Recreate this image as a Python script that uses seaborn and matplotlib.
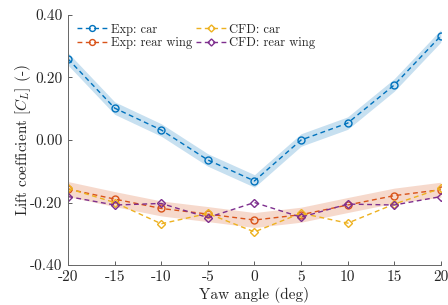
import matplotlib
matplotlib.use("Agg")
import matplotlib.pyplot as plt
import numpy as np
import pandas as pd
import seaborn as sns

# yaw angles and lift coefficients
yaw = [-20, -15, -10, -5, 0, 5, 10, 15, 20]
exp_car = [0.259, 0.102, 0.032, -0.064, -0.131, 0.000, 0.054, 0.176, 0.333]
exp_wing = [-0.157, -0.189, -0.219, -0.237, -0.256, -0.239, -0.208, -0.178, -0.159]
cfd_car = [-0.155, -0.200, -0.268, -0.235, -0.294, -0.234, -0.266, -0.205, -0.155]
cfd_wing = [-0.181, -0.208, -0.203, -0.248, -0.200, -0.247, -0.205, -0.208, -0.181]
band_car = 0.020
band_wing = 0.024

sns.set_style("ticks")
plt.rcParams["font.family"] = ["cmr10", "DejaVu Serif"]
plt.rcParams["mathtext.fontset"] = "cm"
plt.rcParams["axes.unicode_minus"] = False

blue = "#0072BD"
orange = "#D95319"
yellow = "#EDB120"
purple = "#7E2F8E"

fig = plt.figure(figsize=(4.48, 3.05), dpi=100)
ax = fig.add_axes([0.152, 0.131, 0.832, 0.82])

yaw_a = np.array(yaw)
ax.fill_between(yaw_a, np.array(exp_car) - band_car, np.array(exp_car) + band_car,
                color=blue, alpha=0.22, lw=0)
ax.fill_between(yaw_a, np.array(exp_wing) - band_wing, np.array(exp_wing) + band_wing,
                color=orange, alpha=0.22, lw=0)

series = [
    ("Exp: car", exp_car, blue, "o"),
    ("Exp: rear wing", exp_wing, orange, "o"),
    ("CFD: car", cfd_car, yellow, "D"),
    ("CFD: rear wing", cfd_wing, purple, "D"),
]
for name, vals, col, mk in series:
    df = pd.DataFrame({"yaw": yaw, "cl": vals})
    sns.lineplot(data=df, x="yaw", y="cl", ax=ax, color=col, lw=1.0,
                 linestyle=(0, (3.5, 2.5)), marker=mk,
                 markersize=5 if mk == "o" else 4.2,
                 markerfacecolor="none", markeredgecolor=col, markeredgewidth=1.0,
                 label=name)

ax.set_xlim(-20, 20)
ax.set_ylim(-0.4, 0.4)
ax.set_xticks([-20, -15, -10, -5, 0, 5, 10, 15, 20])
ax.set_xticklabels(["-20", "-15", "-10", "-5", "0", "5", "10", "15", "20"])
ax.set_yticks([-0.4, -0.2, 0.0, 0.2, 0.4])
ax.set_yticklabels(["-0.40", "-0.20", "0.00", "0.20", "0.40"])
ax.tick_params(direction="in", length=3, width=0.6, labelsize=11, color="#444444", pad=4)
ax.set_xlabel("Yaw angle (deg)", fontsize=11, labelpad=2)
ax.set_ylabel("Lift coefficient $[C_L]$ (-)", fontsize=11, labelpad=-2)
for s in ["top", "right"]:
    ax.spines[s].set_visible(False)
for s in ["left", "bottom"]:
    ax.spines[s].set_color("#666666")
    ax.spines[s].set_linewidth(0.7)

leg = ax.legend(ncol=2, loc="upper left", frameon=False, fontsize=9,
                handlelength=2.4, columnspacing=0.3, handletextpad=0.3,
                labelspacing=0.1, borderaxespad=0.3, bbox_to_anchor=(0.0, 1.0),
                markerscale=0.85)

fig.savefig("out.png", dpi=100)
